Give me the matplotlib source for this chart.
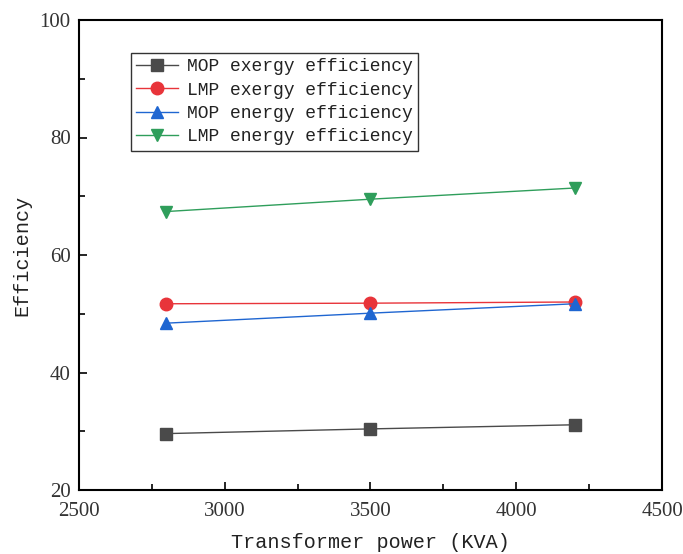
import matplotlib
matplotlib.use("Agg")
import matplotlib.pyplot as plt
from matplotlib.ticker import MultipleLocator

power = [2800, 3500, 4200]
mop_exergy = [29.6, 30.4, 31.1]
lmp_exergy = [51.7, 51.8, 52.0]
mop_energy = [48.4, 50.1, 51.7]
lmp_energy = [67.4, 69.5, 71.4]

labels = ["MOP exergy efficiency", "LMP exergy efficiency",
          "MOP energy efficiency", "LMP energy efficiency"]

plt.rcParams['font.family'] = ['Liberation Mono', 'DejaVu Sans Mono']
plt.rcParams['text.color'] = '#222222'
plt.rcParams['axes.labelcolor'] = '#222222'

fig = plt.figure(figsize=(6.83, 5.54), dpi=100)
ax = fig.add_axes([79/683, 1-490/554, (662-79)/683, (490-20)/554])

ax.plot(power, mop_exergy, color='#4a4a4a', marker='s', markersize=8, lw=1, label=labels[0])
ax.plot(power, lmp_exergy, color='#e8343a', marker='o', markersize=9, lw=1, label=labels[1])
ax.plot(power, mop_energy, color='#1f66d1', marker='^', markersize=9, lw=1, label=labels[2])
ax.plot(power, lmp_energy, color='#2f9e5b', marker='v', markersize=9, lw=1, label=labels[3])

ax.set_xlim(2500, 4500)
ax.set_ylim(20, 100)
ax.xaxis.set_major_locator(MultipleLocator(500))
ax.xaxis.set_minor_locator(MultipleLocator(250))
ax.yaxis.set_major_locator(MultipleLocator(20))
ax.yaxis.set_minor_locator(MultipleLocator(10))
ax.tick_params(which='both', direction='in', top=False, right=False, labelsize=15,
               width=1.2, labelcolor='#333333')
ax.tick_params(axis='x', which='major', pad=9)
ax.tick_params(axis='y', which='major', pad=6)
ax.tick_params(which='major', length=6)
ax.tick_params(which='minor', length=4)
for s in ax.spines.values():
    s.set_linewidth(1.5)
for lbl in ax.get_xticklabels() + ax.get_yticklabels():
    lbl.set_family(['Liberation Serif', 'DejaVu Serif'])

ax.set_xlabel("Transformer power (KVA)", fontsize=14.5, labelpad=8)
ax.set_ylabel("Efficiency", fontsize=14.5, labelpad=6)

leg = ax.legend(loc='upper left', bbox_to_anchor=(0.089, 0.93), fontsize=13,
                frameon=True, fancybox=False, edgecolor='black', handlelength=2.3,
                borderpad=0.3, labelspacing=0.35, handletextpad=0.5, borderaxespad=0)
leg.get_frame().set_linewidth(1.0)

fig.savefig("out.png", dpi=100)
